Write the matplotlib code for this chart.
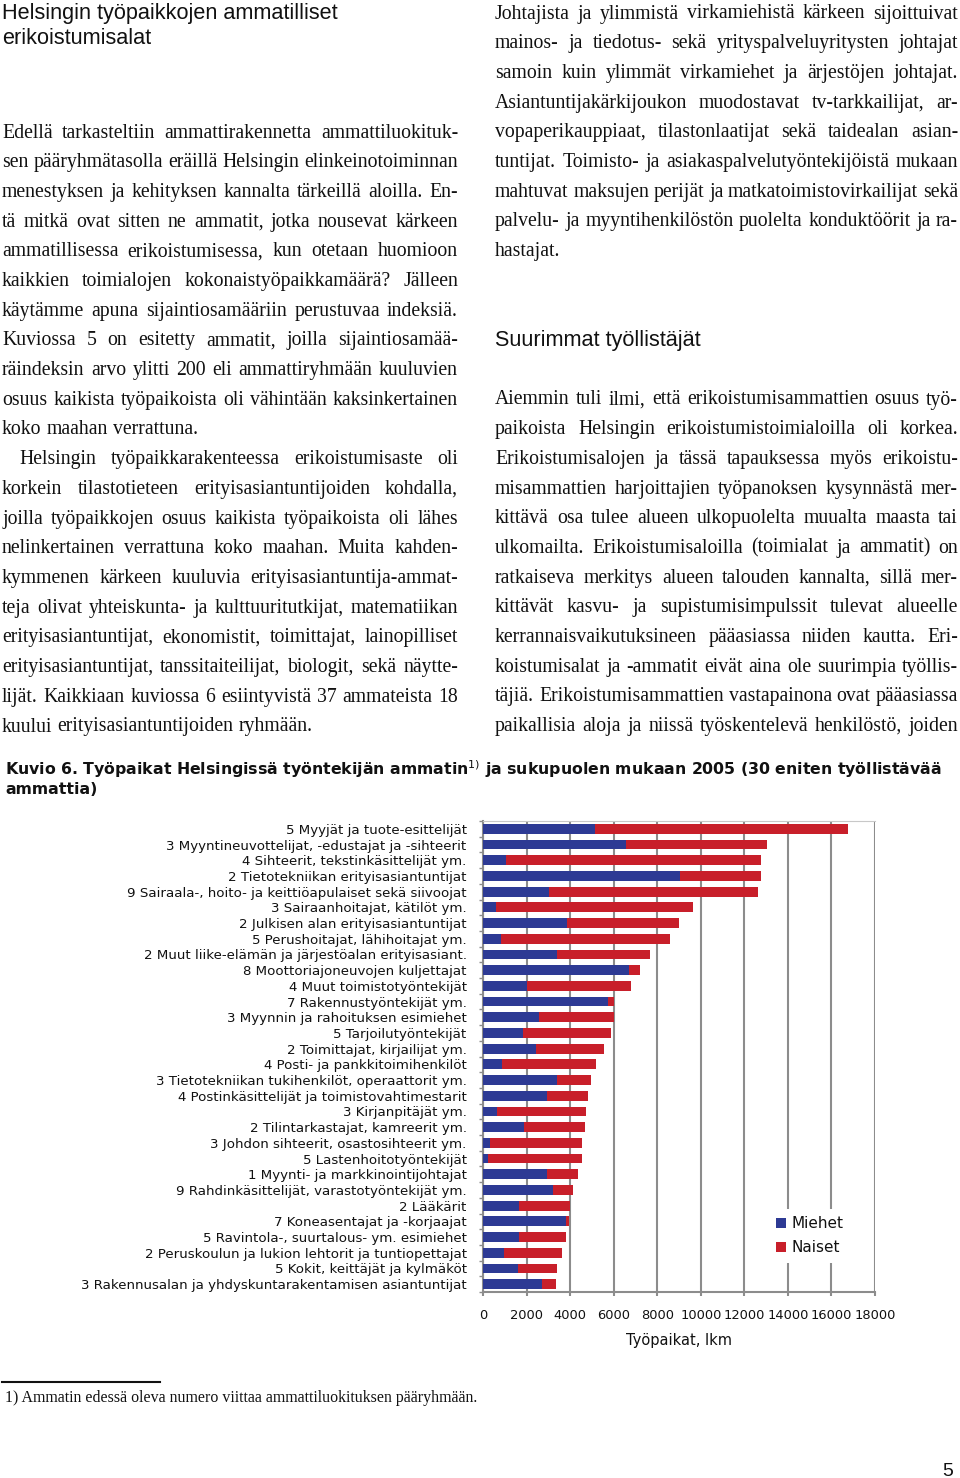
import matplotlib
matplotlib.use('Agg')
import matplotlib.pyplot as plt
import numpy as np

W, H = 960, 1478

labels = [
    "5 Myyjät ja tuote-esittelijät",
    "3 Myyntineuvottelijat, -edustajat ja -sihteerit",
    "4 Sihteerit, tekstinkäsittelijät ym.",
    "2 Tietotekniikan erityisasiantuntijat",
    "9 Sairaala-, hoito- ja keittiöapulaiset sekä siivoojat",
    "3 Sairaanhoitajat, kätilöt ym.",
    "2 Julkisen alan erityisasiantuntijat",
    "5 Perushoitajat, lähihoitajat ym.",
    "2 Muut liike-elämän ja järjestöalan erityisasiant.",
    "8 Moottoriajoneuvojen kuljettajat",
    "4 Muut toimistotyöntekijät",
    "7 Rakennustyöntekijät ym.",
    "3 Myynnin ja rahoituksen esimiehet",
    "5 Tarjoilutyöntekijät",
    "2 Toimittajat, kirjailijat ym.",
    "4 Posti- ja pankkitoimihenkilöt",
    "3 Tietotekniikan tukihenkilöt, operaattorit ym.",
    "4 Postinkäsittelijät ja toimistovahtimestarit",
    "3 Kirjanpitäjät ym.",
    "2 Tilintarkastajat, kamreerit ym.",
    "3 Johdon sihteerit, osastosihteerit ym.",
    "5 Lastenhoitotyöntekijät",
    "1 Myynti- ja markkinointijohtajat",
    "9 Rahdinkäsittelijät, varastotyöntekijät ym.",
    "2 Lääkärit",
    "7 Koneasentajat ja -korjaajat",
    "5 Ravintola-, suurtalous- ym. esimiehet",
    "2 Peruskoulun ja lukion lehtorit ja tuntiopettajat",
    "5 Kokit, keittäjät ja kylmäköt",
    "3 Rakennusalan ja yhdyskuntarakentamisen asiantuntijat",
]
miehet = [5130, 6580, 1040, 9050, 3030, 580, 3850, 830, 3390, 6680,
          1990, 5730, 2560, 1820, 2440, 870, 3390, 2910, 640, 1890,
          310, 230, 2910, 3220, 1640, 3800, 1640, 950, 1580, 2680]
naiset = [11610, 6440, 11700, 3690, 9590, 9060, 5160, 7770, 4290, 540,
          4820, 280, 3450, 4070, 3090, 4310, 1560, 1920, 4080, 2770,
          4240, 4320, 1460, 920, 2330, 140, 2150, 2670, 1810, 650]
xticks = list(range(0, 18001, 2000))

left_lines = [
    "Edellä tarkasteltiin ammattirakennetta ammattiluokituk-",
    "sen pääryhmätasolla eräillä Helsingin elinkeinotoiminnan",
    "menestyksen ja kehityksen kannalta tärkeillä aloilla. En-",
    "tä mitkä ovat sitten ne ammatit, jotka nousevat kärkeen",
    "ammatillisessa erikoistumisessa, kun otetaan huomioon",
    "kaikkien toimialojen kokonaistyöpaikkamäärä? Jälleen",
    "käytämme apuna sijaintiosamääriin perustuvaa indeksiä.",
    "Kuviossa 5 on esitetty ammatit, joilla sijaintiosamää-",
    "räindeksin arvo ylitti 200 eli ammattiryhmään kuuluvien",
    "osuus kaikista työpaikoista oli vähintään kaksinkertainen",
    "koko maahan verrattuna.",
    "Helsingin työpaikkarakenteessa erikoistumisaste oli",
    "korkein tilastotieteen erityisasiantuntijoiden kohdalla,",
    "joilla työpaikkojen osuus kaikista työpaikoista oli lähes",
    "nelinkertainen verrattuna koko maahan. Muita kahden-",
    "kymmenen kärkeen kuuluvia erityisasiantuntija-ammat-",
    "teja olivat yhteiskunta- ja kulttuuritutkijat, matematiikan",
    "erityisasiantuntijat, ekonomistit, toimittajat, lainopilliset",
    "erityisasiantuntijat, tanssitaiteilijat, biologit, sekä näytte-",
    "lijät. Kaikkiaan kuviossa 6 esiintyvistä 37 ammateista 18",
    "kuului erityisasiantuntijoiden ryhmään.",
]
right_lines = [
    "Johtajista ja ylimmistä virkamiehistä kärkeen sijoittuivat",
    "mainos- ja tiedotus- sekä yrityspalveluyritysten johtajat",
    "samoin kuin ylimmät virkamiehet ja ärjestöjen johtajat.",
    "Asiantuntijakärkijoukon muodostavat tv-tarkkailijat, ar-",
    "vopaperikauppiaat, tilastonlaatijat sekä taidealan asian-",
    "tuntijat. Toimisto- ja asiakaspalvelutyöntekijöistä mukaan",
    "mahtuvat maksujen perijät ja matkatoimistovirkailijat sekä",
    "palvelu- ja myyntihenkilöstön puolelta konduktöörit ja ra-",
    "hastajat.",
]
right_lines2 = [
    "Aiemmin tuli ilmi, että erikoistumisammattien osuus työ-",
    "paikoista Helsingin erikoistumistoimialoilla oli korkea.",
    "Erikoistumisalojen ja tässä tapauksessa myös erikoistu-",
    "misammattien harjoittajien työpanoksen kysynnästä mer-",
    "kittävä osa tulee alueen ulkopuolelta muualta maasta tai",
    "ulkomailta. Erikoistumisaloilla (toimialat ja ammatit) on",
    "ratkaiseva merkitys alueen talouden kannalta, sillä mer-",
    "kittävät kasvu- ja supistumisimpulssit tulevat alueelle",
    "kerrannaisvaikutuksineen pääasiassa niiden kautta. Eri-",
    "koistumisalat ja -ammatit eivät aina ole suurimpia työllis-",
    "täjiä. Erikoistumisammattien vastapainona ovat pääasiassa",
    "paikallisia aloja ja niissä työskentelevä henkilöstö, joiden",
]

ink = '#111111'
blue = '#2d3a94'
red = '#c81f2a'
grid = '#8c8c8c'
serif = 'Liberation Serif'
sans = 'Liberation Sans'

fig = plt.figure(figsize=(W / 100, H / 100), dpi=100)
fig.patch.set_facecolor('white')
rend = fig.canvas.get_renderer()


def fy(y):
    return 1 - y / H


def width(s, size, family, weight='normal'):
    t = fig.text(0, 0, s, fontsize=size, family=family, weight=weight)
    w = t.get_window_extent(renderer=rend).width
    t.remove()
    return w


def put_line(x0, x1, yb, s, size, justify=True, family=serif):
    words = s.split()
    ws = [width(w, size, family) for w in words]
    if justify and len(words) > 1:
        gap = (x1 - x0 - sum(ws)) / (len(words) - 1)
    else:
        gap = width('n n', size, family) - width('nn', size, family)
    x = x0
    for w, wd in zip(words, ws):
        fig.text(x / W, fy(yb), w, fontsize=size, family=family, color=ink, va='baseline')
        x += wd + gap


body = 14.2
step = 29.7

# otsikko
fig.text(2 / W, fy(18.5), "Helsingin työpaikkojen ammatilliset", fontsize=15.6,
         family=sans, color=ink, va='baseline')
fig.text(2 / W, fy(44.5), "erikoistumisalat", fontsize=15.6, family=sans,
         color=ink, va='baseline')

for i, s in enumerate(left_lines):
    x0 = 19 if i == 11 else 2
    put_line(x0, 458, 137.5 + i * step, s, body, justify=i not in (10, 20))

for i, s in enumerate(right_lines):
    put_line(495, 958, 18.5 + i * 29.67, s, body, justify=i != len(right_lines) - 1)

fig.text(495 / W, fy(346), "Suurimmat työllistäjät", fontsize=15.6, family=sans,
         color=ink, va='baseline')

for i, s in enumerate(right_lines2):
    put_line(495, 958, 404.5 + i * 29.67, s, body)

# kuvion otsikko
cap1 = r"Kuvio 6. Työpaikat Helsingissä työntekijän ammatin$^{1)}$ ja sukupuolen mukaan 2005 (30 eniten työllistävää"
cw = width(cap1, 10, 'DejaVu Sans', 'bold')
cs = 10 * 940 / cw
fig.text(5 / W, fy(775), cap1, fontsize=cs, family='DejaVu Sans', weight='bold',
         color=ink, va='baseline')
fig.text(5 / W, fy(794), "ammattia)", fontsize=cs, family='DejaVu Sans', weight='bold',
         color=ink, va='baseline')

# kuvio
ax = fig.add_axes([483.3 / W, fy(1292), (875 - 483.3) / W, (1292 - 821) / H])
y = np.arange(len(labels))
ax.barh(y, miehet, height=0.62, color=blue, label='Miehet', zorder=3)
ax.barh(y, naiset, left=miehet, height=0.62, color=red, label='Naiset', zorder=3)
ax.set_xlim(0, 18000)
ax.set_ylim(len(labels) - 0.5, -0.5)
ax.set_xticks(xticks)
ax.set_xticklabels([str(v) for v in xticks], fontsize=9.4, family='DejaVu Sans', color=ink)
ax.xaxis.grid(True, color=grid, lw=1.5, zorder=0)
ax.set_axisbelow(True)
ax.set_yticks(np.arange(-0.5, len(labels), 1))
ax.set_yticklabels([])
ax.set_yticks(y, minor=True)
ax.set_yticklabels(labels, minor=True, fontsize=9.6, family='DejaVu Sans', color=ink)
ax.tick_params(axis='y', which='minor', length=0, pad=12)
ax.tick_params(axis='y', which='major', length=3, color=grid, width=1)
ax.tick_params(axis='x', length=3, color=grid, width=1.5, pad=9)
for sp in ['left', 'bottom']:
    ax.spines[sp].set_color(grid)
    ax.spines[sp].set_linewidth(1.5)
ax.spines['top'].set_color('#c8c8c8')
ax.spines['top'].set_linewidth(0.8)
ax.spines['right'].set_visible(False)
ax.set_xlabel("Työpaikat, lkm", fontsize=10.5, family='DejaVu Sans', color=ink, labelpad=8)

leg = ax.legend(loc='upper left', bbox_to_anchor=(761 / W, fy(1201)), bbox_transform=fig.transFigure,
                frameon=True, facecolor='white', edgecolor='none', framealpha=1,
                handlelength=0.65, handleheight=0.65, handletextpad=0.35, labelspacing=0.6,
                borderpad=0.5, prop={'family': 'DejaVu Sans', 'size': 11})
for t in leg.get_texts():
    t.set_color(ink)

# alaviite
fig.add_artist(plt.Line2D([2 / W, 160 / W], [fy(1382), fy(1382)], color=ink, lw=1.5))
fig.text(5 / W, fy(1401.5), "1) Ammatin edessä oleva numero viittaa ammattiluokituksen pääryhmään.",
         fontsize=11.4, family=serif, color=ink, va='baseline')
fig.text(948 / W, fy(1476), "5", fontsize=14, family=sans, color=ink, va='baseline', ha='center')

plt.savefig('out.png', dpi=100)
